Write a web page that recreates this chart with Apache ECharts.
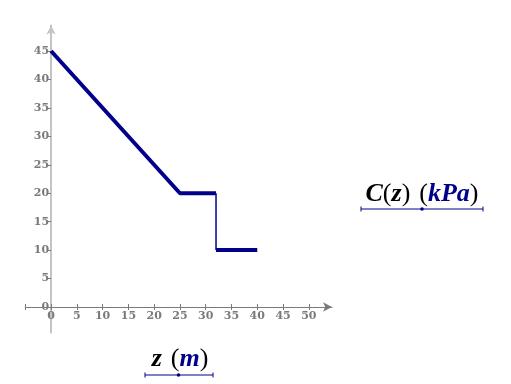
<!DOCTYPE html>
<html><head><meta charset="utf-8">
<script src="https://cdn.jsdelivr.net/npm/echarts@6/dist/echarts.min.js"></script>
<style>html,body{margin:0;padding:0;background:#fff}#c{width:511px;height:384px}</style>
</head><body><div id="c"></div>
<script>
// Data
const zValues = [0, 25, 32, 32, 40];      // z (m)
const cValues = [45, 20, 20, 10, 10];     // C(z) (kPa)
const xTicks = [-5, 0, 5, 10, 15, 20, 25, 30, 35, 40, 45, 50];
const xLabels = [0, 5, 10, 15, 20, 25, 30, 35, 40, 45, 50];
const yTicks = [0, 5, 10, 15, 20, 25, 30, 35, 40, 45];

const pts = zValues.map((z, i) => [z, cValues[i]]);
const thick1 = pts.slice(0, 3);
const thin = pts.slice(2, 4);
const thick2 = pts.slice(3, 5);

const navy = '#00008B';
const grey = '#7a7a7a';
const lblFont = { color: grey, fontFamily: 'DejaVu Serif', fontWeight: 'bold', fontSize: 11 };

const gLeft = 25.3, gRight = 332, gTop = 25.4, gBottom = 332.6;
const xMin = -5, xMax = 54.5, yMin = -4.5, yMax = 49.5;
const xOff = -((gBottom - gTop) * (0 - yMin) / (yMax - yMin));
const yOff = -((gRight - gLeft) * (0 - xMin) / (xMax - xMin));

const rich = {
  i: { fontFamily: 'Liberation Serif', fontStyle: 'italic', fontWeight: 'bold', fontSize: 26, fill: '#000' },
  p: { fontFamily: 'Liberation Serif', fontSize: 26, fill: '#000' },
  b: { fontFamily: 'Liberation Serif', fontStyle: 'italic', fontWeight: 'bold', fontSize: 26, fill: navy },
  s: { width: 9, fontSize: 26 }
};

const chart = echarts.init(document.getElementById('c'));
chart.setOption({
  animation: false,
  grid: { left: gLeft, right: 511 - gRight, top: gTop, bottom: 384 - gBottom, containLabel: false },
  xAxis: [{
    type: 'value', min: xMin, max: xMax, position: 'bottom', offset: xOff,
    splitLine: { show: false },
    axisLine: { onZero: false, lineStyle: { color: grey, width: 1 }, symbol: ['none', 'arrow'], symbolSize: [7, 9] },
    axisTick: { show: true, inside: false, length: 3, customValues: xTicks, lineStyle: { color: grey } },
    axisLabel: Object.assign({ customValues: xLabels, margin: 4 }, lblFont)
  }, {
    type: 'value', min: xMin, max: xMax, position: 'bottom', offset: xOff,
    splitLine: { show: false },
    axisLine: { show: false, onZero: false },
    axisTick: { show: true, inside: true, length: 3, customValues: xTicks, lineStyle: { color: grey } },
    axisLabel: { show: false }
  }],
  yAxis: {
    type: 'value', min: yMin, max: yMax, position: 'left', offset: yOff,
    splitLine: { show: false },
    axisLine: { onZero: false, lineStyle: { color: '#c4c4c4', width: 2 }, symbol: ['none', 'arrow'], symbolSize: [7, 9] },
    axisTick: { show: true, length: 3, customValues: yTicks, lineStyle: { color: grey } },
    axisLabel: Object.assign({ customValues: yTicks, margin: 2 }, lblFont)
  },
  series: [
    { type: 'line', xAxisIndex: 0, data: thick1, showSymbol: false, lineStyle: { color: navy, width: 4 }, z: 3 },
    { type: 'line', xAxisIndex: 0, data: thin, showSymbol: false, lineStyle: { color: navy, width: 1.5 }, z: 2 },
    { type: 'line', xAxisIndex: 0, data: thick2, showSymbol: false, lineStyle: { color: navy, width: 4 }, z: 3 }
  ],
  graphic: [
    { type: 'text', x: 180, y: 359, style: {
      text: '{i|z}{s|}{p|(}{b|m}{p|)}', align: 'center', verticalAlign: 'middle', rich: rich } },
    { type: 'line', shape: { x1: 145, y1: 375, x2: 213, y2: 375 }, style: { stroke: navy, lineWidth: 1 } },
    { type: 'line', shape: { x1: 145, y1: 372.5, x2: 145, y2: 377.5 }, style: { stroke: navy, lineWidth: 1 } },
    { type: 'line', shape: { x1: 213, y1: 372.5, x2: 213, y2: 377.5 }, style: { stroke: navy, lineWidth: 1 } },
    { type: 'circle', shape: { cx: 178.5, cy: 375, r: 1.8 }, style: { fill: navy } },
    { type: 'text', x: 422, y: 194, style: {
      text: '{i|C}{p|(}{i|z}{p|)}{s|}{p|(}{b|kPa}{p|)}', align: 'center', verticalAlign: 'middle', rich: rich } },
    { type: 'line', shape: { x1: 361, y1: 209, x2: 483, y2: 209 }, style: { stroke: navy, lineWidth: 1 } },
    { type: 'line', shape: { x1: 361, y1: 206.5, x2: 361, y2: 211.5 }, style: { stroke: navy, lineWidth: 1 } },
    { type: 'line', shape: { x1: 483, y1: 206.5, x2: 483, y2: 211.5 }, style: { stroke: navy, lineWidth: 1 } },
    { type: 'circle', shape: { cx: 422, cy: 209, r: 1.8 }, style: { fill: navy } }
  ]
});
</script></body></html>
